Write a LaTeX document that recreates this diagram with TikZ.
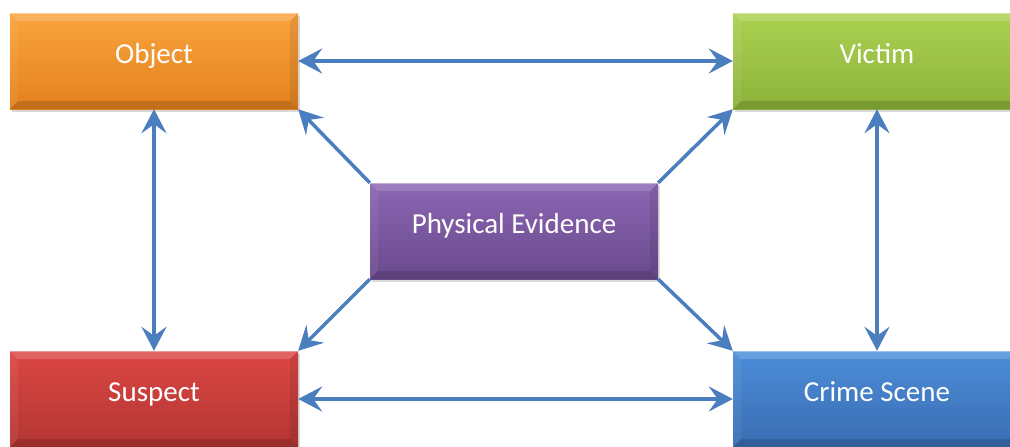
\documentclass[tikz,border=0pt]{standalone}
\usepackage{fontspec}
\setmainfont{Carlito}
\usetikzlibrary{arrows.meta,shadows}

% box fill colours (top / bottom of the vertical gradient)
\definecolor{orangeT}{HTML}{FAA43E}
\definecolor{orangeB}{HTML}{E3811E}
\definecolor{greenT}{HTML}{ABD152}
\definecolor{greenB}{HTML}{8CB23A}
\definecolor{purpleT}{HTML}{8B66B2}
\definecolor{purpleB}{HTML}{6A4A8E}
\definecolor{redT}{HTML}{DC4744}
\definecolor{redB}{HTML}{B23532}
\definecolor{blueT}{HTML}{4B8DD8}
\definecolor{blueB}{HTML}{3A6DB2}
\definecolor{linkblue}{HTML}{4A7EBF}

\tikzset{
  box/.style={
    minimum width=288pt, minimum height=96pt, inner sep=0pt,
    text=white, font=\fontsize{29}{34}\selectfont,
    text height=21pt, text depth=17pt,
    drop shadow={shadow xshift=2pt, shadow yshift=-3pt, opacity=0.3},
    path picture={
      % bevelled rim: light top and left, dark bottom and right
      \coordinate (bnw) at (path picture bounding box.north west);
      \coordinate (bne) at (path picture bounding box.north east);
      \coordinate (bsw) at (path picture bounding box.south west);
      \coordinate (bse) at (path picture bounding box.south east);
      \fill[white, opacity=0.16] (bnw) -- (bne) -- ([shift={(-8pt,-8pt)}]bne) -- ([shift={(8pt,-8pt)}]bnw) -- cycle;
      \fill[black, opacity=0.14] (bsw) -- (bse) -- ([shift={(-8pt,8pt)}]bse) -- ([shift={(8pt,8pt)}]bsw) -- cycle;
      \fill[white, opacity=0.06] (bnw) -- ([shift={(8pt,-8pt)}]bnw) -- ([shift={(8pt,8pt)}]bsw) -- (bsw) -- cycle;
      \fill[black, opacity=0.08] (bne) -- ([shift={(-8pt,-8pt)}]bne) -- ([shift={(-8pt,8pt)}]bse) -- (bse) -- cycle;
      \draw[white, opacity=0.35, line width=1.2pt] (bnw) -- (bne);
    }
  },
  orangebox/.style={box, top color=orangeT, bottom color=orangeB},
  greenbox/.style={box, top color=greenT, bottom color=greenB},
  purplebox/.style={box, top color=purpleT, bottom color=purpleB},
  redbox/.style={box, top color=redT, bottom color=redB},
  bluebox/.style={box, top color=blueT, bottom color=blueB},
  tip/.style={arrows={-Stealth[length=24pt,width=25pt,inset=9pt]}},
  link/.style={draw=linkblue, line width=3.5pt, tip},
  twoway/.style={draw=linkblue, line width=3.5pt,
    arrows={Stealth[length=24pt,width=25pt,inset=9pt]-Stealth[length=24pt,width=25pt,inset=9pt]}},
}

\begin{document}
\begin{tikzpicture}[x=1pt,y=-1pt]
  \useasboundingbox (0,0) rectangle (1010,447);
  \clip (0,0) rectangle (1010,447);

  \node[orangebox] (obj) at (154,61)  {Object};
  \node[greenbox]  (vic) at (877,61)  {Victim};
  \node[purplebox] (pe)  at (514,231) {Physical Evidence};
  \node[redbox]    (sus) at (154,399) {Suspect};
  \node[bluebox]   (cs)  at (877,399) {Crime Scene};

  % links between the four corner boxes
  \draw[twoway] (obj.east) -- (vic.west);
  \draw[twoway] (sus.east) -- (cs.west);
  \draw[twoway] (obj.south) -- (sus.north);
  \draw[twoway] (vic.south) -- (cs.north);

  % links out of the central box
  \draw[link] (pe.north west) -- (obj.south east);
  \draw[link] (pe.north east) -- (vic.south west);
  \draw[link] (pe.south west) -- (sus.north east);
  \draw[link] (pe.south east) -- (cs.north west);
\end{tikzpicture}
\end{document}
